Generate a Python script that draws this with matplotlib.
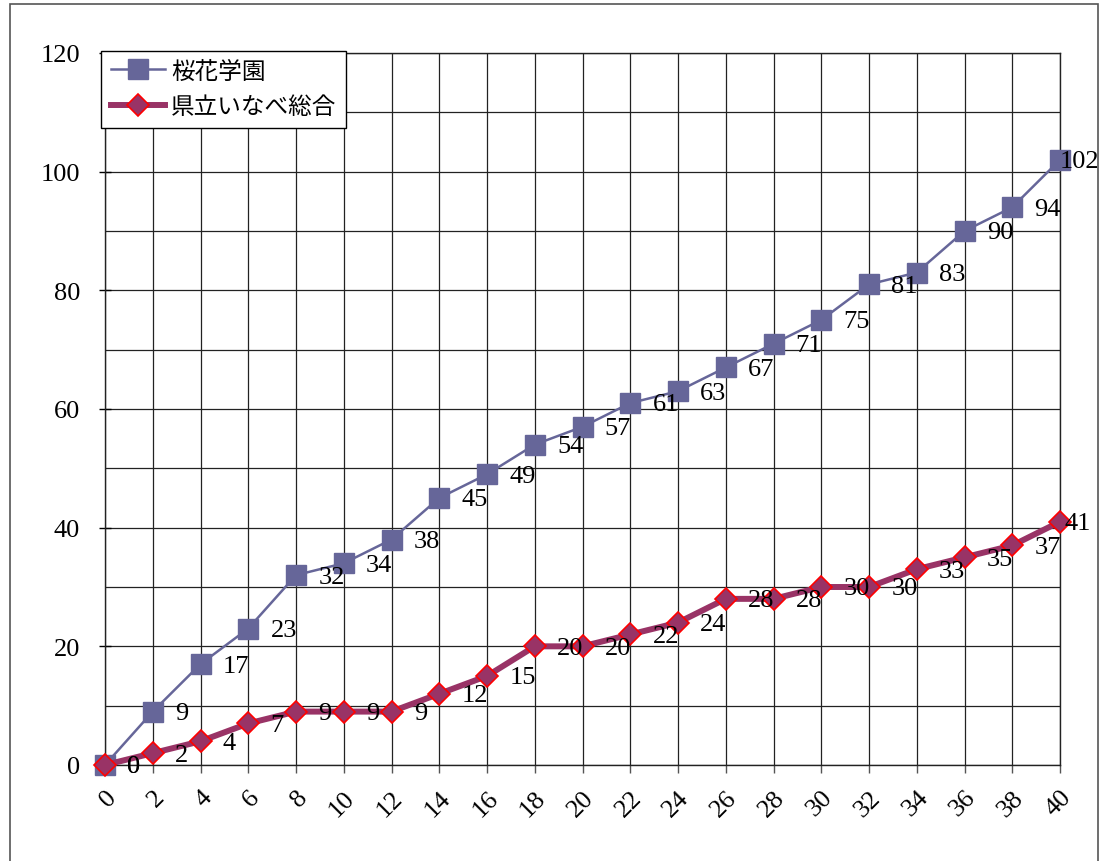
import matplotlib
matplotlib.use("Agg")
import matplotlib.pyplot as plt
from matplotlib.patches import Rectangle

# data
x_vals = list(range(0, 42, 2))
oka_name = "桜花学園"
oka_vals = [0, 9, 17, 23, 32, 34, 38, 45, 49, 54, 57, 61, 63, 67, 71, 75, 81, 83, 90, 94, 102]
inabe_name = "県立いなべ総合"
inabe_vals = [0, 2, 4, 7, 9, 9, 9, 12, 15, 20, 20, 22, 24, 28, 28, 30, 30, 33, 35, 37, 41]

num_font = "Liberation Serif"
jp_fonts = ["Liberation Serif", "Noto Sans CJK JP"]
plt.rcParams['font.family'] = jp_fonts

fig = plt.figure(figsize=(11.03, 8.62), dpi=100)
fig.patches.append(Rectangle((10 / 1103, -0.01), 1088 / 1103, 1 - 5 / 862 + 0.01,
                             transform=fig.transFigure, fill=False,
                             edgecolor='#555555', linewidth=1.2))
ax = fig.add_axes([105 / 1103, (862 - 766) / 862, 955 / 1103, 712 / 862])

ax.plot(x_vals, oka_vals, color='#666699', linewidth=1.8, marker='s',
        markersize=14, markerfacecolor='#666699', markeredgecolor='#666699',
        label=oka_name, clip_on=False, zorder=3)
ax.plot(x_vals, inabe_vals, color='#993366', linewidth=4.3, marker='D',
        markersize=11, markerfacecolor='#993366', markeredgecolor='#ff0000',
        markeredgewidth=1.2, label=inabe_name, clip_on=False, zorder=4)

# data labels (right of each point, pulled in at the right edge)
for series in (oka_vals, inabe_vals):
    for i, (xv, yv) in enumerate(zip(x_vals, series)):
        dx = 16 if i < len(x_vals) - 1 else (0 if series is oka_vals else 3)
        ax.annotate(str(yv), (xv, yv), xytext=(dx, -1), textcoords='offset points',
                    ha='left', va='center', fontsize=19, family=num_font,
                    annotation_clip=False, zorder=6)

ax.set_xlim(0, 40)
ax.set_ylim(0, 120)
ax.set_xticks(x_vals)
ax.set_xticklabels([str(v) for v in x_vals], rotation=45, ha='right', va='top',
                   rotation_mode='anchor', family=num_font, fontsize=19)
ax.set_yticks(range(0, 121, 20))
ax.set_yticklabels([str(v) for v in range(0, 121, 20)], family=num_font, fontsize=19)
ax.set_yticks(range(0, 121, 10), minor=True)
ax.tick_params(axis='y', which='major', direction='inout', length=8, width=1, pad=14)
ax.tick_params(axis='y', which='minor', length=0)
ax.tick_params(axis='x', direction='out', length=6, width=1, pad=9, colors='#555555',
               labelcolor='black')

ax.grid(True, which='both', axis='y', color='#222222', linewidth=0.9)
ax.grid(True, which='major', axis='x', color='#222222', linewidth=0.9)
ax.set_axisbelow(True)
for s in ax.spines.values():
    s.set_color('#222222')
    s.set_linewidth(1)

leg = ax.legend(loc='upper left', bbox_to_anchor=(-0.004, 1.003), fontsize=17,
                frameon=True, fancybox=False, borderpad=0.4, labelspacing=0.6,
                handlelength=2.3, handletextpad=0.25, borderaxespad=0)
leg.get_frame().set_edgecolor('black')
leg.get_frame().set_linewidth(1)
leg.get_frame().set_alpha(1)
leg.set_zorder(10)

fig.savefig("out.png", dpi=100)
